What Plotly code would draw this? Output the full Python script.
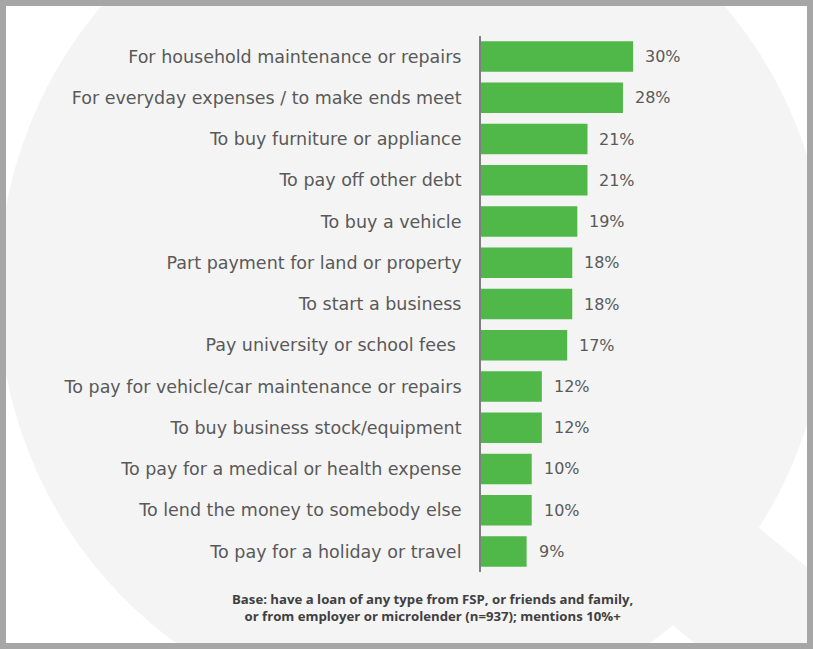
import plotly.graph_objects as go

# Loan purposes (top to bottom) and share of mentions
purposes = [
    "For household maintenance or repairs",
    "For everyday expenses / to make ends meet",
    "To buy furniture or appliance",
    "To pay off other debt",
    "To buy a vehicle",
    "Part payment for land or property",
    "To start a business",
    "Pay university or school fees\u00a0",
    "To pay for vehicle/car maintenance or repairs",
    "To buy business stock/equipment",
    "To pay for a medical or health expense",
    "To lend the money to somebody else",
    "To pay for a holiday or travel",
]
shares = [30, 28, 21, 21, 19, 18, 18, 17, 12, 12, 10, 10, 9]

footnote = (
    "Base: have a loan of any type from FSP, or friends and family,<br>"
    "or from employer or microlender (n=937); mentions 10%+"
)

W, H = 813, 649
ML, MR, MT, MB = 481, 28, 36, 77
PW = W - ML - MR
PH = H - MT - MB
LABEL_FONT = "DejaVu Sans"
NOTE_FONT = "Open Sans"


# pixel -> paper helpers for the background watermark
def px(x):
    return (x - ML) / PW


def py(y):
    return (H - MB - y) / PH


fig = go.Figure(
    go.Bar(
        x=shares,
        y=purposes,
        orientation="h",
        marker=dict(color="#50B848", line=dict(width=0)),
        hoverinfo="x+y",
    )
)

# value labels just past the bar ends
for p, s in zip(purposes, shares):
    fig.add_annotation(
        x=s, y=p, text=f"{s}%", showarrow=False,
        xanchor="left", xshift=10,
        font=dict(family=LABEL_FONT, size=16, color="#595959"),
    )

fig.add_annotation(
    x=px(432), y=py(607), xref="paper", yref="paper",
    text=footnote, showarrow=False, align="center",
    xanchor="center", yanchor="middle",
    font=dict(family=NOTE_FONT, size=13.2, color="#404040", weight="bold"),
)

# light grey "Q" watermark + grey frame
cx, cy, a, b = 413, 290, 415, 430
fig.add_shape(
    type="circle", xref="paper", yref="paper", layer="below",
    x0=px(cx - a), x1=px(cx + a), y0=py(cy + b), y1=py(cy - b),
    fillcolor="#f4f4f4", line=dict(width=0),
)
tail = [(700, 480), (900, 643), (820, 750), (620, 580)]
path = "M " + " L ".join(f"{px(x)},{py(y)}" for x, y in tail) + " Z"
fig.add_shape(
    type="path", path=path, xref="paper", yref="paper", layer="below",
    fillcolor="#f4f4f4", line=dict(width=0),
)
fig.add_shape(
    type="rect", xref="paper", yref="paper", layer="below",
    x0=px(3), x1=px(810), y0=py(646), y1=py(3),
    line=dict(color="#a6a6a6", width=6), fillcolor="rgba(0,0,0,0)",
)

fig.update_layout(
    width=W,
    height=H,
    margin=dict(l=ML, r=MR, t=MT, b=MB),
    paper_bgcolor="white",
    plot_bgcolor="rgba(0,0,0,0)",
    bargap=0.26,
    showlegend=False,
    font=dict(family=LABEL_FONT, size=16, color="#595959"),
)
fig.update_xaxes(range=[0, PW / 5.07], visible=False, fixedrange=True)
fig.update_yaxes(
    categoryorder="array",
    categoryarray=purposes,
    autorange="reversed",
    showline=True,
    linecolor="#7f7f7f",
    linewidth=2,
    showgrid=False,
    ticks="",
    ticklabelstandoff=14,
    tickfont=dict(family=LABEL_FONT, size=17.5, color="#595959"),
    fixedrange=True,
)

# drop the default page margin so the figure sits at the window corner
fig.write_html(
    "out.html",
    config={"displayModeBar": False},
    post_script="document.body.style.margin='0';",
)
